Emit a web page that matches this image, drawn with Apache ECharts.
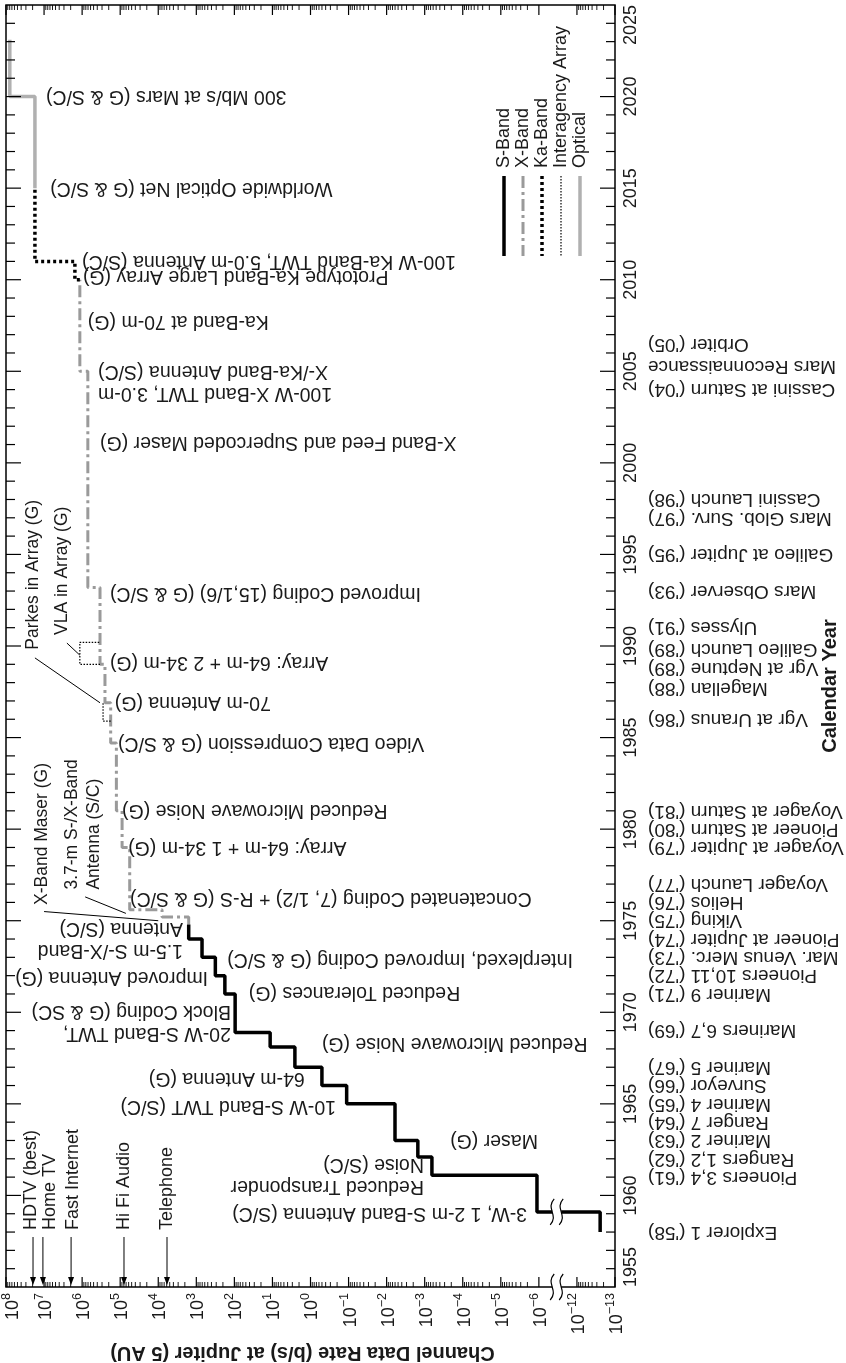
<!DOCTYPE html>
<html>
<head>
<meta charset="utf-8">
<script src="https://cdn.jsdelivr.net/npm/echarts/dist/echarts.min.js"></script>
<style>html,body{margin:0;padding:0;background:#fff;}#chart{width:846px;height:1363px;}</style>
</head>
<body>
<div id="chart"></div>
<script>
// ---------------- DATA (log10 of channel data rate in b/s, calendar year) ----------------
const yearMin = 1955, yearMax = 2025;
const decadeExps = [8, 7, 6, 5, 4, 3, 2, 1, 0, -1, -2, -3, -4, -5, -6, -12, -13];

const sBandYears = [1958.0, 1959.1, 1961.1, 1962.1, 1963.0, 1965.0, 1966.0, 1967.0, 1968.1, 1968.9, 1971.0, 1972.0, 1973.0, 1974.0];
const sBandRates = [-12.61, -5.95, -3.19, -2.82, -2.22, -0.95, -0.3, 0.41, 1.06, 1.98, 2.25, 2.5, 2.85, 3.2];
const sBandEnd = 1974.8;

const xBandYears = [1974.8, 1975.2, 1975.6, 1979.0, 1981.0, 1984.7, 1986.9, 1989.0, 1993.2, 2005.0];
const xBandRates = [3.2, 3.9, 4.75, 4.95, 5.1, 5.25, 5.4, 5.53, 5.85, 6.06];
const xBandEnd = 2010.0;

const kaBandYears = [2010.0, 2011.0];
const kaBandRates = [6.19, 7.24];
const kaBandEnd = 2015.0;

const opticalYears = [2015.0, 2020.0];
const opticalRates = [7.24, 7.9];
const opticalEnd = 2023.1;

const vlaYears = [1989.0, 1990.2];
const vlaRate = 6.06;
const parkesYears = [1985.9, 1986.9];
const parkesRate = 5.45;

const missionNames = ["Explorer 1 ('58)", "Pioneers 3,4 ('61)", "Rangers 1,2 ('62)", "Mariner 2 ('63)", "Ranger 7 ('64)",
  "Mariner 4 ('65)", "Surveyor ('66)", "Mariner 5 ('67)", "Mariners 6,7 ('69)", "Mariner 9 ('71)", "Pioneers 10,11 ('72)",
  "Mar. Venus Merc. ('73)", "Pioneer at Jupiter ('74)", "Viking ('75)", "Helios ('76)", "Voyager Launch ('77)",
  "Voyager at Jupiter ('79)", "Pioneer at Saturn ('80)", "Voyager at Saturn ('81)", "Vgr at Uranus ('86)", "Magellan ('88)",
  "Vgr at Neptune ('89)", "Galileo Launch ('89)", "Ulysses ('91)", "Mars Observer ('93)", "Galileo at Jupiter ('95)",
  "Mars Glob. Surv. ('97)", "Cassini Launch ('98)", "Cassini at Saturn ('04)", "Mars Reconnaissance\nOrbiter ('05)"];
const missionYears = [1958, 1961, 1962, 1963, 1964, 1965, 1966, 1967, 1969, 1971, 1972, 1973, 1974, 1975, 1976, 1977,
  1979, 1980, 1981, 1986, 1988, 1989, 1989, 1991, 1993, 1995, 1997, 1998, 2004, 2005];

const annTexts = ["3-W, 1 2-m S-Band Antenna (S/C)", "Reduced Transponder\nNoise (S/C)", "Maser (G)", "10-W S-Band TWT (S/C)",
  "64-m Antenna (G)", "Reduced Microwave Noise (G)", "20-W S-Band TWT,\nBlock Coding (G & SC)", "Reduced Tolerances (G)",
  "Improved Antenna (G)", "Interplexed, Improved Coding (G & S/C)", "1.5-m S-/X-Band\nAntenna (S/C)",
  "Concatenated Coding (7, 1/2) + R-S (G & S/C)", "Array: 64-m + 1 34-m (G)", "Reduced Microwave Noise (G)",
  "Video Data Compression (G & S/C)", "70-m Antenna (G)", "Array: 64-m + 2 34-m (G)", "Improved Coding (15,1/6) (G & S/C)",
  "X-Band Feed and Supercoded Maser (G)", "100-W X-Band TWT, 3.0-m\nX-/Ka-Band Antenna (S/C)", "Ka-Band at 70-m (G)",
  "Prototype Ka-Band Large Array (G)", "100-W Ka-Band TWT, 5.0-m Antenna (S/C)", "Worldwide Optical Net (G & S/C)",
  "300 Mb/s at Mars (G & S/C)"];
const annYears = [1959.0, 1961.1, 1963.0, 1964.85, 1966.4, 1968.3, 1969.45, 1971.1, 1971.9, 1972.9, 1974.0,
  1976.2, 1979.0, 1981.0, 1984.7, 1986.9, 1989.1, 1992.9, 2001.1, 2004.4, 2007.7, 2010.2, 2011.0, 2015.0, 2020.0];

const refNames = ["HDTV (best)", "Home TV", "Fast Internet", "Hi Fi Audio", "Telephone"];
const refRates = [7.29, 7.03, 6.29, 4.9, 3.77];

const vertNotes = ["Parkes in Array (G)", "VLA in Array (G)", "X-Band Maser (G)", "3.7-m S-/X-Band\nAntenna (S/C)"];

const legendNames = ["S-Band", "X-Band", "Ka-Band", "Interagency Array", "Optical"];

// ---------------- LAYOUT (not data) ----------------
const annEdge = [-5.69, -2.98, -3.67, -0.67, 0.15, -0.3, 2.09, 1.62, 2.69, 2.19, 3.35,
  4.74, 4.79, 4.95, 5.06, 5.14, 5.27, 5.27, 5.53, 5.58, 5.85, 5.98, 6.0, 6.84, 6.95];
const annSide = ["L","L","R","L","L","R","L","R","L","R","L","R","R","R","R","R","R","R","R","R","R","R","R","R","R"];
const missionShift = [0,0,0,0,0,0,0,0,0,0,0,0,0,0,0,0,0,0,0,0,-0.3,-0.2,0.8,0,0,0,0,0,0,0.85];
const refTextShift = [-2, 7, 2, 0, 0];
const vertNoteAnchor = [[7.29, 1989.8], [6.53, 1990.6], [7.05, 1975.86], [5.98, 1976.7]];
const pointerLines = [[[7.0, 1975.5], [4.0, 1975.0]], [[5.92, 1976.3], [4.85, 1975.4]],
  [[7.24, 1989.35], [5.53, 1986.9]], [[6.40, 1990.16], [6.06, 1989.5]]];

// ---------------- helpers ----------------
const toU = e => (e >= -6 ? 8 - e : 3 - e);   // axis position (broken log axis, high rates at left)
const FAM = '"Liberation Sans", Arial, Helvetica, sans-serif';
const F_ANN = '19.5px ' + FAM, F_MIS = '19px ' + FAM, F_YR = '18px ' + FAM, F_REF = '18px ' + FAM,
      F_NOTE = '17.5px ' + FAM, F_LEG = '18px ' + FAM, BOLD = 'bold 20px ' + FAM;

function stepPath(years, rates, end, prevRate) {
  const pts = [];
  if (prevRate !== undefined) pts.push([toU(prevRate), years[0]]);
  for (let i = 0; i < years.length; i++) {
    pts.push([toU(rates[i]), years[i]]);
    pts.push([toU(rates[i]), i + 1 < years.length ? years[i + 1] : end]);
  }
  return pts;
}
function rateAt(years, rates, y) {
  let r = rates[0];
  for (let i = 0; i < years.length; i++) if (years[i] <= y) r = rates[i];
  return r;
}
const supStr = e => (e < 0 ? '\u2212' + (-e) : '' + e);

const sPts = stepPath(sBandYears, sBandRates, sBandEnd);
const xPts = stepPath(xBandYears, xBandRates, xBandEnd, sBandRates[sBandRates.length - 1]);
const kaPts = stepPath(kaBandYears, kaBandRates, kaBandEnd, xBandRates[xBandRates.length - 1]);
const opPts = stepPath(opticalYears, opticalRates, opticalEnd, kaBandRates[kaBandRates.length - 1]);
const vlaBase = rateAt(xBandYears, xBandRates, vlaYears[0]);
const vlaPts = [[toU(vlaBase), vlaYears[0]], [toU(vlaRate), vlaYears[0]], [toU(vlaRate), vlaYears[1]], [toU(vlaBase), vlaYears[1]]];
const parkesBase = rateAt(xBandYears, xBandRates, parkesYears[0]);
const parkesPts = [[toU(parkesBase), parkesYears[0]], [toU(parkesRate), parkesYears[0]], [toU(parkesRate), parkesYears[1]]];

function renderDecor(params, api) {
  const tl = api.coord([0, yearMax]), br = api.coord([16, yearMin]);
  const L = tl[0], T = tl[1], R = br[0], B = br[1];
  const ch = [];
  const line = (x1, y1, x2, y2, w, stroke, dash) => ch.push({type: 'line', silent: true,
    shape: {x1, y1, x2, y2}, style: {stroke: stroke || '#000', lineWidth: w || 1, lineDash: dash || null}});
  const text = (str, x, y, rot, align, va, font, extra) => ch.push({type: 'text', silent: true, x, y, rotation: rot,
    style: Object.assign({text: str, x: 0, y: 0, font: font, fill: '#1a1a1a', align: align, verticalAlign: va,
      textAlign: align, textVerticalAlign: va, lineHeight: 22}, extra || {})});
  const px = (e, yr) => api.coord([toU(e), yr]);

  for (let y = yearMin + 1; y < yearMax; y++) {
    const yy = api.coord([0, y])[1];
    const len = y % 5 === 0 ? 15 : 9;
    line(R - len, yy, R, yy, 1.2);
    line(L, yy, L + len, yy, 1.2);
  }
  for (let y = yearMin; y <= yearMax; y += 5) {
    const yy = api.coord([0, y])[1];
    const al = y === yearMin ? 'left' : (y === yearMax ? 'right' : 'center');
    text(String(y), R + 16, yy, Math.PI / 2, al, 'middle', F_YR);
  }
  decadeExps.forEach((e, i) => {
    const x = api.coord([toU(e), yearMin])[0];
    line(x, B - 10, x, B, 1.2);
    line(x, T, x, T + 10, 1.2);
    const next = decadeExps[i + 1];
    if (next === e - 1) {
      for (let k = 2; k <= 9; k++) {
        const xm = api.coord([toU(e) + 1 - Math.log10(k), yearMin])[0];
        line(xm, B - 5, xm, B, 0.9);
        line(xm, T, xm, T + 5, 0.9);
      }
    }
    text('{b|10}{s|' + supStr(e) + '}', x + (i === 0 ? 5 : 0), B + 6, Math.PI / 2, 'right', 'middle', F_YR, {
      rich: {b: {font: F_YR, fill: '#1a1a1a', verticalAlign: 'bottom', lineHeight: 22},
             s: {font: '12.5px ' + FAM, fill: '#1a1a1a', verticalAlign: 'top', lineHeight: 22}}});
  });
  text('Channel Data Rate (b/s) at Jupiter (5 AU)', (L + R) / 2 - 8, B + 66, Math.PI, 'center', 'middle', BOLD);
  text('Calendar Year', 830, (T + B) / 2 + 40, Math.PI / 2, 'center', 'middle', BOLD);

  missionNames.forEach((n, i) => {
    const yy = api.coord([0, missionYears[i] + missionShift[i]])[1];
    text(n, R + 33, yy, Math.PI, 'right', 'middle', F_MIS);
  });
  annTexts.forEach((t, i) => {
    const p = px(annEdge[i], annYears[i]);
    text(t, p[0], p[1], Math.PI, annSide[i] === 'L' ? 'left' : 'right', 'middle', F_ANN);
  });
  refNames.forEach((n, i) => {
    const x = px(refRates[i], yearMin)[0];
    line(x, B - 50, x, B - 6, 1);
    ch.push({type: 'polygon', silent: true, shape: {points: [[x - 3, B - 10], [x + 3, B - 10], [x, B - 2]]}, style: {fill: '#000'}});
    text(n, x + refTextShift[i], B - 57, Math.PI / 2, 'left', 'middle', F_REF);
  });
  vertNotes.forEach((n, i) => {
    const p = px(vertNoteAnchor[i][0], vertNoteAnchor[i][1]);
    text(n, p[0], p[1], Math.PI / 2, 'left', 'middle', F_NOTE);
  });
  pointerLines.forEach(pl => {
    const a = px(pl[0][0], pl[0][1]), b = px(pl[1][0], pl[1][1]);
    line(a[0], a[1], b[0], b[1], 1);
  });
  const legStyles = [{c: '#000', w: 3.5, d: null}, {c: '#9a9a9a', w: 3, d: [12, 4, 3, 4]}, {c: '#000', w: 3.5, d: [3, 3]},
    {c: '#000', w: 1.2, d: [1.5, 1.5]}, {c: '#b0b0b0', w: 3.5, d: null}];
  legendNames.forEach((n, i) => {
    const x = 504 + i * 19;
    text(n, x, 168, Math.PI / 2, 'left', 'middle', F_LEG);
    line(x, 176, x, 256, legStyles[i].w, legStyles[i].c, legStyles[i].d);
  });
  const brk = (yy) => {
    const xa = api.coord([14.35, yearMin])[0], xb = xa + 9;
    ch.push({type: 'rect', silent: true, shape: {x: xa, y: yy - 12, width: xb - xa, height: 24}, style: {fill: '#fff'}});
    [xa, xb].forEach(xx => ch.push({type: 'bezierCurve', silent: true,
      shape: {x1: xx - 2, y1: yy + 13, x2: xx + 2, y2: yy - 13, cpx1: xx + 7, cpy1: yy + 3, cpx2: xx - 7, cpy2: yy - 3},
      style: {stroke: '#000', lineWidth: 1.2, fill: null}}));
  };
  brk(B);
  brk(api.coord([0, sBandYears[1]])[1]);
  return {type: 'group', children: ch};
}

const chart = echarts.init(document.getElementById('chart'));
chart.setOption({
  animation: false,
  backgroundColor: '#fff',
  grid: {left: 6, right: 231, top: 5, bottom: 76, show: true, borderColor: '#000', borderWidth: 1.5,
         containLabel: false, outerBoundsMode: 'none'},
  xAxis: {type: 'value', min: 0, max: 16, axisLine: {show: false}, axisTick: {show: false}, axisLabel: {show: false}, splitLine: {show: false}},
  yAxis: {type: 'value', min: yearMin, max: yearMax, axisLine: {show: false}, axisTick: {show: false}, axisLabel: {show: false}, splitLine: {show: false}},
  series: [
    {type: 'line', data: opPts, showSymbol: false, symbol: 'none', lineStyle: {color: '#b0b0b0', width: 3.5}, z: 3, clip: false},
    {type: 'line', data: xPts, showSymbol: false, symbol: 'none', lineStyle: {color: '#9a9a9a', width: 3, type: [12, 4, 3, 4]}, z: 3, clip: false},
    {type: 'line', data: kaPts, showSymbol: false, symbol: 'none', lineStyle: {color: '#000', width: 3.5, type: [3, 3]}, z: 4, clip: false},
    {type: 'line', data: sPts, showSymbol: false, symbol: 'none', lineStyle: {color: '#000', width: 3.5}, z: 4, clip: false},
    {type: 'line', data: vlaPts, showSymbol: false, symbol: 'none', lineStyle: {color: '#000', width: 1.2, type: [1.5, 1.5]}, z: 5, clip: false},
    {type: 'line', data: parkesPts, showSymbol: false, symbol: 'none', lineStyle: {color: '#000', width: 1.2, type: [1.5, 1.5]}, z: 5, clip: false},
    {type: 'custom', data: [[0, yearMin]], renderItem: renderDecor, z: 10, clip: false, silent: true}
  ]
});
</script>
</body>
</html>
